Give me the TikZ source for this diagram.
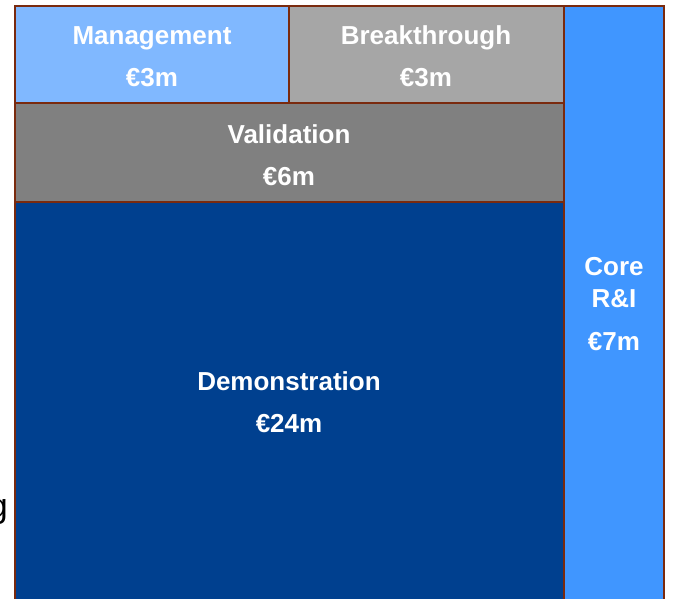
\documentclass[tikz,border=0pt]{standalone}
\usepackage{fontspec}
\setmainfont{Liberation Sans}
\definecolor{edgebrown}{RGB}{122,42,14}
\definecolor{mgmtblue}{RGB}{128,184,255}
\definecolor{breakgrey}{RGB}{166,166,166}
\definecolor{validgrey}{RGB}{128,128,128}
\definecolor{demoblue}{RGB}{0,64,143}
\definecolor{coreblue}{RGB}{64,150,255}
\tikzset{
  box/.style={draw=edgebrown, line width=2.5pt},
  lbl/.style={text=white, font=\fontsize{26}{30}\selectfont\bfseries, anchor=base, inner sep=0pt},
  cut/.style={text=black, font=\fontsize{34}{40}\selectfont, anchor=base east, inner sep=0pt}
}
\begin{document}
\begin{tikzpicture}[x=1pt,y=-1pt]
\useasboundingbox[fill=white] (0,0) rectangle (673,598);
\clip (0,0) rectangle (673,598);
% cut-off text at left edge
\node[cut] (cutg) at (8,517) {g};
% boxes
\draw[box, fill=demoblue] (15,202) rectangle (564,610);
\draw[box, fill=coreblue] (564,6) rectangle (664,610);
\draw[box, fill=validgrey] (15,103) rectangle (564,202);
\draw[box, fill=mgmtblue] (15,6) rectangle (289,103);
\draw[box, fill=breakgrey] (289,6) rectangle (564,103);
% labels
\node[lbl] (mgmt) at (152,44) {Management};
\node[lbl] (mgmtv) at (152,86) {€3m};
\node[lbl] (brk) at (426,44) {Breakthrough};
\node[lbl] (brkv) at (426,86) {€3m};
\node[lbl] (val) at (289,143) {Validation};
\node[lbl] (valv) at (289,185) {€6m};
\node[lbl] (demo) at (289,390) {Demonstration};
\node[lbl] (demov) at (289,432) {€24m};
\node[lbl] (core) at (614,275) {Core};
\node[lbl] (corer) at (614,307) {R\&I};
\node[lbl] (corev) at (614,350) {€7m};
\end{tikzpicture}
\end{document}
